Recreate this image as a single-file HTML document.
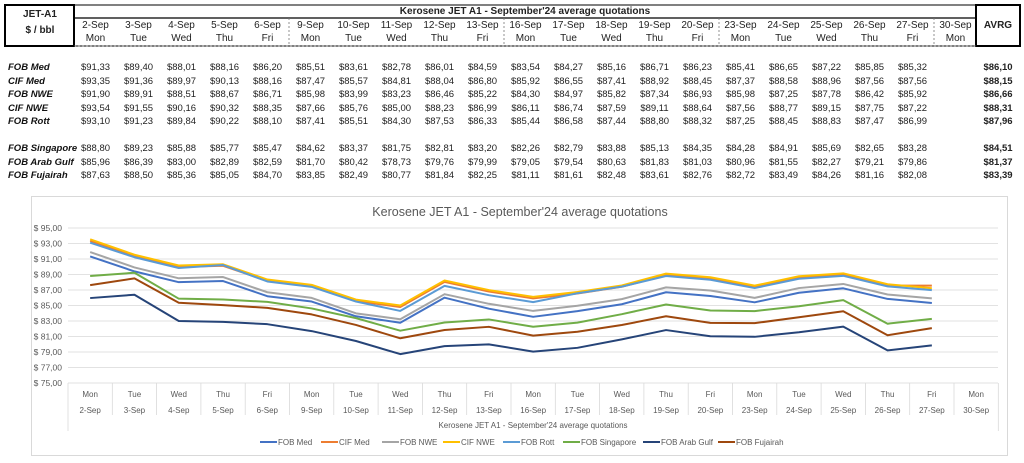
<!DOCTYPE html>
<html><head><meta charset="utf-8">
<style>
body{margin:0;background:#fff;width:1024px;height:463px;overflow:hidden;font-family:"Liberation Sans",sans-serif;}
#w{position:relative;width:1024px;height:463px;}
.t{position:absolute;font-size:9.5px;color:#222;white-space:nowrap;transform:translateX(-50%);}
.lab{position:absolute;left:8px;font-size:9.5px;font-weight:bold;font-style:italic;color:#111;}
</style></head><body><div id="w">
<svg id="s" width="1024" height="463" style="position:absolute;left:0;top:0" xmlns="http://www.w3.org/2000/svg"></svg>
</div>
<script>
const W=document.getElementById('w'),S=document.getElementById('s');
const NS='http://www.w3.org/2000/svg';
function el(t,a,txt){const e=document.createElementNS(NS,t);for(const k in a)e.setAttribute(k,a[k]);if(txt!==undefined)e.textContent=txt;S.appendChild(e);return e;}
function div(cls,x,y,txt,st){const d=document.createElement('div');d.className=cls;d.style.left=x+'px';d.style.top=y+'px';d.textContent=txt;if(st)d.style.cssText+=st;W.appendChild(d);}
const dates=['2-Sep','3-Sep','4-Sep','5-Sep','6-Sep','9-Sep','10-Sep','11-Sep','12-Sep','13-Sep','16-Sep','17-Sep','18-Sep','19-Sep','20-Sep','23-Sep','24-Sep','25-Sep','26-Sep','27-Sep','30-Sep'];
const days=['Mon','Tue','Wed','Thu','Fri'];
const names=['FOB Med','CIF Med','FOB NWE','CIF NWE','FOB Rott','FOB Singapore','FOB Arab Gulf','FOB Fujairah'];
const cols=['#4472C4','#ED7D31','#A5A5A5','#FFC000','#5B9BD5','#70AD47','#264478','#9E480E'];
const avg=['86,10','88,15','86,66','88,31','87,96','84,51','81,37','83,39'];
const D=[
[91.33,89.40,88.01,88.16,86.20,85.51,83.61,82.78,86.01,84.59,83.54,84.27,85.16,86.71,86.23,85.41,86.65,87.22,85.85,85.32],
[93.35,91.36,89.97,90.13,88.16,87.47,85.57,84.81,88.04,86.80,85.92,86.55,87.41,88.92,88.45,87.37,88.58,88.96,87.56,87.56],
[91.90,89.91,88.51,88.67,86.71,85.98,83.99,83.23,86.46,85.22,84.30,84.97,85.82,87.34,86.93,85.98,87.25,87.78,86.42,85.92],
[93.54,91.55,90.16,90.32,88.35,87.66,85.76,85.00,88.23,86.99,86.11,86.74,87.59,89.11,88.64,87.56,88.77,89.15,87.75,87.22],
[93.10,91.23,89.84,90.22,88.10,87.41,85.51,84.30,87.53,86.33,85.44,86.58,87.44,88.80,88.32,87.25,88.45,88.83,87.47,86.99],
[88.80,89.23,85.88,85.77,85.47,84.62,83.37,81.75,82.81,83.20,82.26,82.79,83.88,85.13,84.35,84.28,84.91,85.69,82.65,83.28],
[85.96,86.39,83.00,82.89,82.59,81.70,80.42,78.73,79.76,79.99,79.05,79.54,80.63,81.83,81.03,80.96,81.55,82.27,79.21,79.86],
[87.63,88.50,85.36,85.05,84.70,83.85,82.49,80.77,81.84,82.25,81.11,81.61,82.48,83.61,82.76,82.72,83.49,84.26,81.16,82.08]];
// table
el('rect',{x:5,y:5,width:1015,height:41,fill:'none',stroke:'#000','stroke-width':1});
el('rect',{x:5,y:5,width:69,height:41,fill:'none',stroke:'#000','stroke-width':2});
el('rect',{x:976,y:5,width:44,height:41,fill:'none',stroke:'#000','stroke-width':2});
el('line',{x1:74,y1:18,x2:976,y2:18,stroke:'#000','stroke-width':1.2});
el('line',{x1:74,y1:46,x2:976,y2:46,stroke:'#777','stroke-width':0.8,'stroke-dasharray':'2,2'});
[5,10,15,20].forEach(i=>{const x=74+43*i;el('line',{x1:x,y1:18,x2:x,y2:46,stroke:'#777','stroke-width':0.8,'stroke-dasharray':'2,2'});});
div('t',40,9,'JET-A1','font-weight:bold;font-size:10px');
div('t',40,25,'$ / bbl','font-weight:bold;font-size:10px');
div('t',525,6,"Kerosene JET A1 - September'24 average quotations",'font-weight:bold;font-size:10px');
div('t',998,20,'AVRG','font-weight:bold;font-size:10px');
const rowY=[62,75.5,89,102.5,116,143,156.5,170];
dates.forEach((d,i)=>{const cx=74+43*(i+0.5);div('t',cx,20,d,'font-size:10px');div('t',cx,33,days[i%5],'font-size:10px');
 if(i<20)D.forEach((r,j)=>div('t',cx,rowY[j],'$'+r[i].toFixed(2).replace('.',',')));});
names.forEach((n,j)=>{div('lab',8,rowY[j],n);div('t',998,rowY[j],'$'+avg[j],'font-weight:bold');});
// chart
el('rect',{x:31.5,y:196.5,width:976,height:259,fill:'#fff',stroke:'#d9d9d9'});
el('text',{x:520,y:216,'text-anchor':'middle','font-size':'12.5','fill':'#595959','font-family':'Liberation Sans'},"Kerosene JET A1 - September'24 average quotations");
const yv=v=>383-(v-75)*7.75, xv=i=>68+44.3*(i+0.5);
for(let v=75;v<=95;v+=2){el('line',{x1:68,y1:yv(v),x2:998,y2:yv(v),stroke:'#d9d9d9','stroke-width':0.8});
 el('text',{x:62,y:yv(v)+3,'text-anchor':'end','font-size':'8.5',fill:'#595959','font-family':'Liberation Sans'},'$ '+v+',00');}
for(let i=0;i<=21;i++){const x=68+44.3*i;el('line',{x1:x,y1:383,x2:x,y2:i==0||i==21?431:415,stroke:'#d9d9d9','stroke-width':0.8});}
dates.forEach((d,i)=>{el('text',{x:xv(i),y:397,'text-anchor':'middle','font-size':'8',fill:'#595959','font-family':'Liberation Sans'},days[i%5]);
 el('text',{x:xv(i),y:413,'text-anchor':'middle','font-size':'8',fill:'#595959','font-family':'Liberation Sans'},d);});
el('text',{x:533,y:428,'text-anchor':'middle','font-size':'8',fill:'#595959','font-family':'Liberation Sans'},"Kerosene JET A1 - September'24 average quotations");
[1,3,0,2,4,5,6,7].forEach(j=>{el('polyline',{points:D[j].map((v,i)=>xv(i)+','+yv(v)).join(' '),fill:'none',stroke:cols[j],'stroke-width':2,'stroke-linejoin':'round'});});
const lx=[260,321,382,443,503,563,643,718];
names.forEach((n,j)=>{el('line',{x1:lx[j],y1:442,x2:lx[j]+17,y2:442,stroke:cols[j],'stroke-width':2});
 el('text',{x:lx[j]+18,y:445,'font-size':'8',fill:'#595959','font-family':'Liberation Sans'},n);});
</script>
</body></html>
